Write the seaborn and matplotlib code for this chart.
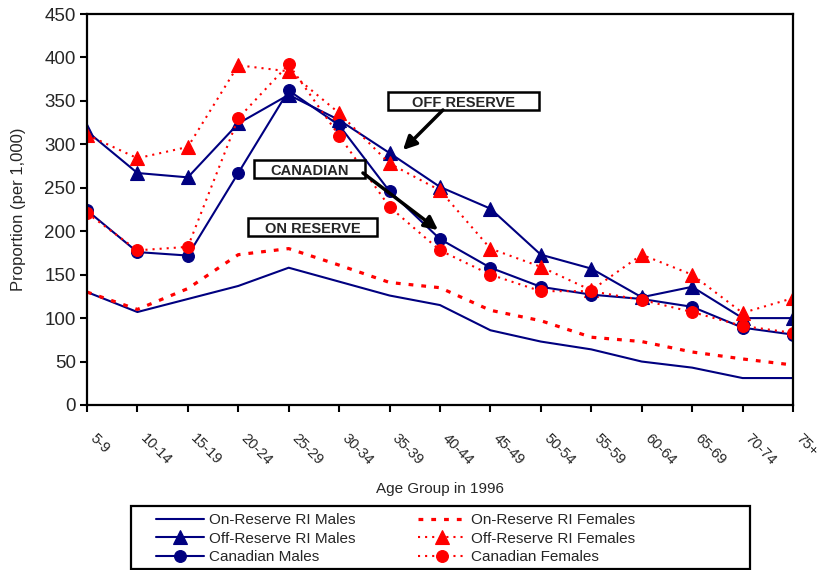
import matplotlib
matplotlib.use("Agg")
import matplotlib.pyplot as plt
from matplotlib.patches import Rectangle
from matplotlib.transforms import ScaledTranslation
import seaborn as sns
import pandas as pd

age_groups = ["5-9", "10-14", "15-19", "20-24", "25-29", "30-34", "35-39", "40-44",
              "45-49", "50-54", "55-59", "60-64", "65-69", "70-74", "75+"]

on_reserve_males = [130, 107, 122, 137, 158, 142, 126, 115, 86, 73, 64, 50, 43, 31, 31]
on_reserve_females = [130, 110, 134, 173, 180, 161, 141, 135, 109, 97, 78, 73, 61, 53, 46]
off_reserve_males = [315, 267, 262, 324, 357, 328, 290, 251, 226, 173, 157, 124, 136, 100, 100]
off_reserve_females = [311, 284, 297, 391, 384, 336, 278, 247, 180, 159, 132, 173, 150, 106, 123]
canadian_males = [224, 176, 172, 267, 362, 322, 246, 191, 158, 136, 127, 122, 113, 89, 81]
canadian_females = [221, 178, 182, 330, 392, 310, 228, 178, 150, 131, 131, 121, 107, 91, 83]

NAVY = "#000080"
RED = "#FF0000"

sns.set_style("white")
plt.rcParams["font.family"] = ["Liberation Sans", "DejaVu Sans"]

fig = plt.figure(figsize=(8.22, 5.70), dpi=100)
ax = fig.add_axes([0.1058, 0.2895, 0.8589, 0.6859])

series = [
    ("On-Reserve RI Males", on_reserve_males, NAVY, None, "-", 1.5),
    ("On-Reserve RI Females", on_reserve_females, RED, None, (0, (1.5, 2.5)), 2.3),
    ("Off-Reserve RI Males", off_reserve_males, NAVY, "^", "-", 1.5),
    ("Off-Reserve RI Females", off_reserve_females, RED, "^", (0, (1, 2.4)), 1.5),
    ("Canadian Males", canadian_males, NAVY, "o", "-", 1.5),
    ("Canadian Females", canadian_females, RED, "o", (0, (1, 2.4)), 1.5),
]

handles = {}
for name, values, color, marker, ls, lw in series:
    df = pd.DataFrame({"pos": range(len(age_groups)), "value": values})
    kw = dict(color=color, linewidth=lw, linestyle=ls, label=name)
    if marker is not None:
        kw.update(marker=marker, markersize=9.5 if marker == "^" else 8.5,
                  markeredgecolor=color, markerfacecolor=color, markeredgewidth=0.8)
    sns.lineplot(data=df, x="pos", y="value", ax=ax, legend=False, **kw)
    handles[name] = ax.lines[-1]

ax.set_xlim(0, len(age_groups) - 1)
ax.set_ylim(0, 450)
ax.set_yticks(range(0, 451, 50))
ax.set_xticks(range(len(age_groups)))
ax.set_xticklabels(age_groups, rotation=-45, ha="left", va="top", fontsize=10.5)
shift = ScaledTranslation(7 / 100, 0, fig.dpi_scale_trans)
for t in ax.get_xticklabels():
    t.set_transform(t.get_transform() + shift)
for t in ax.get_yticklabels():
    t.set_fontsize(13.5)

for s in ax.spines.values():
    s.set_visible(True)
    s.set_color("black")
    s.set_linewidth(1.6)

ax.tick_params(axis="both", direction="out", length=5, width=1.5, color="black",
               bottom=True, left=True)
ax.tick_params(axis="x", pad=14)
ax.tick_params(axis="y", pad=3)

ax.set_xlabel("Age Group in 1996", fontsize=11)
ax.set_ylabel("Proportion (per 1,000)", fontsize=12)
ax.xaxis.set_label_coords(0.5, -0.197)
ax.yaxis.set_label_coords(-0.0864, 0.5)

# Labelled boxes with callout arrows
boxes = [
    ("OFF RESERVE", 0.4263, 0.7545, 0.2139, 0.046),
    ("CANADIAN", 0.2365, 0.5806, 0.1573, 0.046),
    ("ON RESERVE", 0.2280, 0.4322, 0.1828, 0.046),
]
for text, x0, y0, w, h in boxes:
    ax.add_patch(Rectangle((x0, y0), w, h, transform=ax.transAxes, facecolor="white",
                           edgecolor="black", linewidth=1.8, zorder=6))
    ax.text(x0 + w / 2, y0 + h / 2 - 0.004, text, transform=ax.transAxes, ha="center",
            va="center", fontsize=10.5, fontweight="bold", zorder=7)

arrow_kw = dict(arrowstyle="-|>,head_length=0.8,head_width=0.4", color="black",
                linewidth=2.5, shrinkA=0, shrinkB=0)
ax.annotate("", xy=(0.4476, 0.6522), xycoords="axes fraction",
            xytext=(0.5042, 0.7545), textcoords="axes fraction",
            arrowprops=arrow_kw, zorder=8)
ax.annotate("", xy=(0.4972, 0.4476), xycoords="axes fraction",
            xytext=(0.3909, 0.5934), textcoords="axes fraction",
            arrowprops=arrow_kw, zorder=8)

# Legend below the plot, inside a plain rectangular frame
fig.patches.append(Rectangle((0.1594, 0.00175), 0.753, 0.1105, transform=fig.transFigure,
                             facecolor="none", edgecolor="black", linewidth=1.6))
order = ["On-Reserve RI Males", "Off-Reserve RI Males", "Canadian Males",
         "On-Reserve RI Females", "Off-Reserve RI Females", "Canadian Females"]
fig.legend([handles[n] for n in order], order, ncol=2,
           loc="upper left", bbox_to_anchor=(156 / 822, 1 - 513 / 570),
           fontsize=11, handlelength=3.14, handletextpad=0.33,
           columnspacing=4.06, labelspacing=0.3, borderpad=0, borderaxespad=0,
           frameon=False)

fig.savefig("out.png", dpi=100)
